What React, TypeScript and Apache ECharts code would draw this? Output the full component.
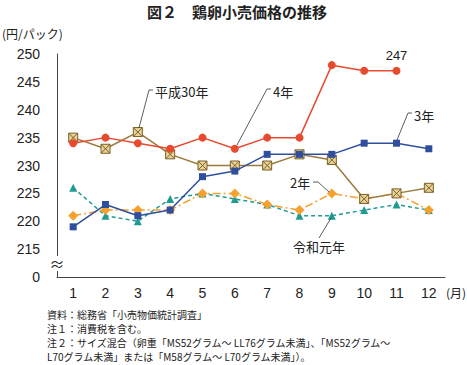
import React, { useEffect, useRef } from "react";
import * as echarts from "echarts";

const months = ["1", "2", "3", "4", "5", "6", "7", "8", "9", "10", "11", "12"];
const heisei30 = [235, 233, 236, 232, 230, 230, 230, 232, 231, 224, 225, 226];
const reiwa1 = [226, 221, 220, 224, 225, 224, 223, 221, 221, 222, 223, 222];
const reiwa2 = [221, 222, 222, 222, 225, 225, 223, 222, 225, 224, 225, 222];
const reiwa3 = [219, 223, 221, 222, 228, 229, 232, 232, 232, 234, 234, 233];
const reiwa4: (number | null)[] = [234, 235, 234, 233, 235, 233, 235, 235, 248, 247, 247, null];
const yTicks = [210, 215, 220, 225, 230, 235, 240, 245, 250];

const JP = "'Noto Sans CJK JP', 'Noto Sans', sans-serif";
const NUM = "'Liberation Sans', Arial, sans-serif";

export default function App() {
  const ref = useRef<HTMLDivElement>(null);
  useEffect(() => {
    if (!ref.current) return;
    const chart = echarts.init(ref.current, null, { renderer: "svg" });
    const txt = (text: string, x: number, y: number, size = 12, extra: any = {}) => ({
      type: "text",
      x,
      y,
      style: { text, fill: "#222", font: `${extra.bold ? "bold " : ""}${size}px ${JP}`, textAlign: extra.align || "left", textVerticalAlign: "middle" },
      z: 100,
    });
    const leader = (pts: number[][]) => ({
      type: "polyline",
      shape: { points: pts },
      style: { stroke: "#333", lineWidth: 0.8, fill: null },
      z: 100,
    });
    chart.setOption({
      animation: false,
      backgroundColor: "#fff",
      grid: { left: 57, right: 22, top: 54, bottom: 88 },
      xAxis: {
        type: "category",
        data: months,
        boundaryGap: true,
        axisLine: { lineStyle: { color: "#444", width: 1 } },
        axisTick: { show: false },
        axisLabel: { color: "#222", fontSize: 14, fontFamily: NUM, margin: 9 },
      },
      yAxis: {
        type: "value",
        min: yTicks[0],
        max: yTicks[yTicks.length - 1],
        interval: 5,
        splitLine: { show: false },
        axisLine: { show: true, lineStyle: { color: "#444", width: 1 } },
        axisTick: { show: false },
        axisLabel: {
          color: "#222",
          fontSize: 14,
          fontFamily: NUM,
          margin: 17,
          formatter: (v: number) => (v === yTicks[0] ? "0" : String(v)),
        },
      },
      series: [
        {
          name: "令和元年",
          type: "line",
          data: reiwa1,
          symbol: "triangle",
          symbolSize: 8,
          lineStyle: { color: "#1f9b93", width: 1.5, type: [4, 3] },
          itemStyle: { color: "#1f9b93" },
          z: 2,
        },
        {
          name: "2年",
          type: "line",
          data: reiwa2,
          symbol: "diamond",
          symbolSize: 10,
          lineStyle: { color: "#f4a130", width: 1.5, type: [8, 3, 2, 3] },
          itemStyle: { color: "#f4a130" },
          z: 3,
        },
        {
          name: "平成30年",
          type: "line",
          data: heisei30,
          symbol: "path://M0 0H10V10H0Z M0 0L10 10 M10 0L0 10",
          symbolSize: 9,
          lineStyle: { color: "#9a7a3e", width: 1.5 },
          itemStyle: { color: "#e6d39a", borderColor: "#7d5f25", borderWidth: 1 },
          z: 4,
        },
        {
          name: "3年",
          type: "line",
          data: reiwa3,
          symbol: "rect",
          symbolSize: 7,
          lineStyle: { color: "#2f4f9e", width: 1.5 },
          itemStyle: { color: "#2f4f9e" },
          z: 5,
        },
        {
          name: "4年",
          type: "line",
          data: reiwa4,
          symbol: "circle",
          symbolSize: 8,
          lineStyle: { color: "#e84a2e", width: 1.5 },
          itemStyle: { color: "#e84a2e" },
          label: {
            show: true,
            position: "top",
            distance: 5,
            color: "#222",
            fontSize: 13,
            fontFamily: NUM,
            formatter: (p: any) => (p.dataIndex === 10 ? String(p.value) : ""),
          },
          z: 6,
        },
      ],
      graphic: [
        txt("図２　鶏卵小売価格の推移", 237, 11, 15, { bold: true, align: "center" }),
        txt("(円/パック)", 2, 33, 12),
        txt("(月)", 446, 292, 12),
        { type: "rect", shape: { x: 50, y: 256, width: 14, height: 15 }, style: { fill: "#fff" }, z: 99 },
        txt("≈", 57, 263, 15, { align: "center" }),
        txt("平成30年", 155, 91, 13),
        leader([[153, 90], [149, 90], [139, 128]]),
        txt("4年", 273, 91, 13),
        leader([[271, 89], [267, 89], [237, 145]]),
        txt("3年", 414, 115, 13),
        leader([[412, 113], [408, 113], [397, 140]]),
        txt("2年", 290, 182, 13),
        leader([[313, 182], [318, 182], [329, 192]]),
        txt("令和元年", 293, 246, 13),
        leader([[319, 238], [331, 218]]),
        txt("資料：総務省「小売物価統計調査」", 47, 314, 10),
        txt("注１：消費税を含む。", 47, 328, 10),
        txt("注２：サイズ混合（卵重「MS52グラム～ LL76グラム未満」、「MS52グラム～", 47, 342, 10),
        txt("L70グラム未満」または「M58グラム～ L70グラム未満」）。", 47, 356, 10),
      ],
    });
    return () => chart.dispose();
  }, []);
  return <div ref={ref} style={{ width: 467, height: 365, position: "absolute", left: 0, top: 0 }} />;
}
